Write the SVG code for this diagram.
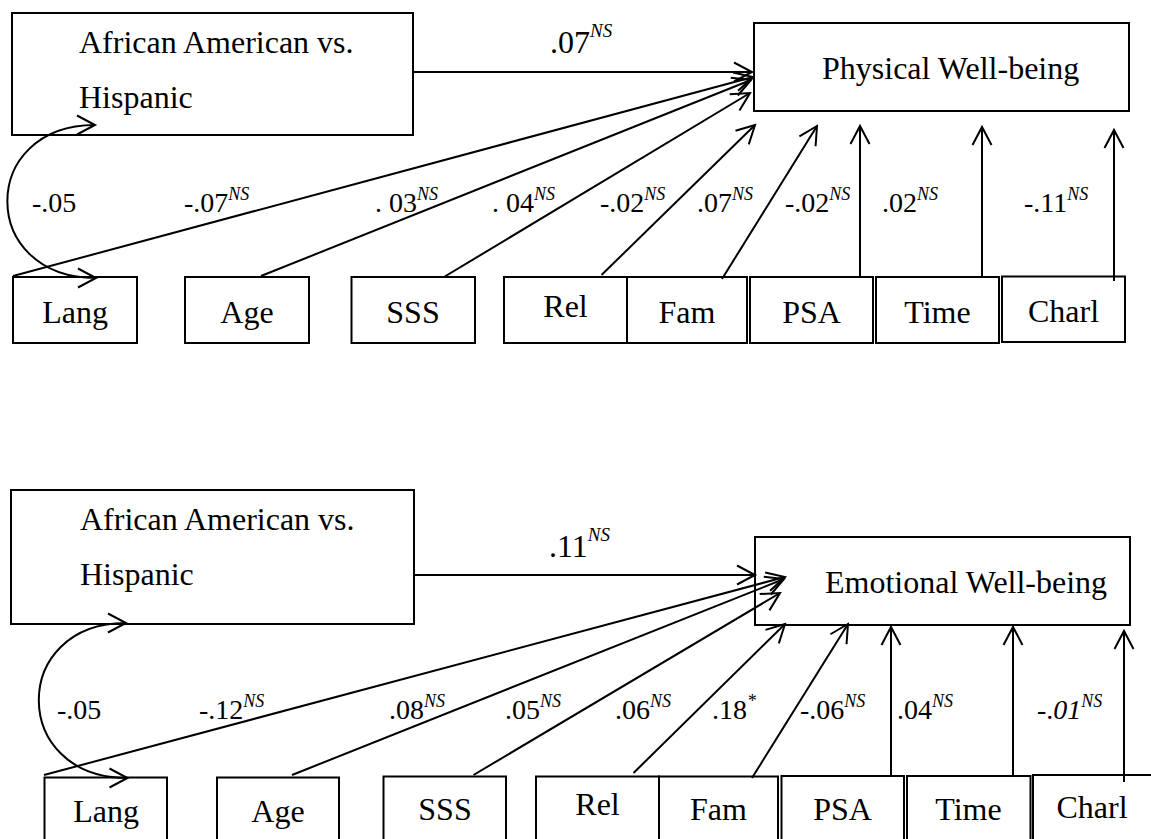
<svg xmlns="http://www.w3.org/2000/svg" width="1151" height="839" viewBox="0 0 1151 839">
  <style>
    .box { fill: #fff; stroke: #000; stroke-width: 2; }
    .lbl { font-family: "Liberation Serif", "Times New Roman", Tinos, "DejaVu Serif", serif; font-size: 32px; fill: #000; }
    .mid { text-anchor: middle; }
    .coef { font-family: "Liberation Serif", "Times New Roman", Tinos, "DejaVu Serif", serif; font-size: 28px; fill: #000; }
    .big { font-size: 32px; }
    .sup { font-style: italic; font-size: 18px; }
    .supb { font-style: italic; font-size: 19px; }
    .it { font-style: italic; }
    .edge { fill: none; stroke: #000; stroke-width: 2; marker-end: url(#arrow); }
    .cov { fill: none; stroke: #000; stroke-width: 2; marker-start: url(#arrow2); marker-end: url(#arrow2); }
  </style>
  <defs>
    <marker id="arrow" viewBox="-2 -2 24 24" markerUnits="userSpaceOnUse" markerWidth="24" markerHeight="24" refX="18" refY="10" orient="auto" overflow="visible">
      <path d="M0,0.5 L18,10 L0,19.5" fill="none" stroke="#000" stroke-width="2"/>
    </marker>
    <marker id="arrow2" viewBox="-2 -2 24 24" markerUnits="userSpaceOnUse" markerWidth="24" markerHeight="24" refX="18" refY="10" orient="auto-start-reverse" overflow="visible">
      <path d="M0,0.5 L18,10 L0,19.5" fill="none" stroke="#000" stroke-width="2"/>
    </marker>
  </defs>
  <rect width="1151" height="839" fill="#fff"/>

  <!-- Model 1: physical well-being -->
  <g id="p-aa">
    <rect class="box" x="12" y="13" width="401" height="122"/>
    <text class="lbl" x="79" y="53">African American vs.</text>
    <text class="lbl" x="79" y="108">Hispanic</text>
  </g>
  <g id="p-outcome">
    <rect class="box" x="754" y="23" width="375" height="88"/>
    <text class="lbl" x="822" y="79">Physical Well-being</text>
  </g>
  <g id="p-lang"><rect class="box" x="13" y="277" width="124" height="66"/><text class="lbl mid" x="75" y="323">Lang</text></g>
  <g id="p-age"><rect class="box" x="185" y="277" width="124" height="66"/><text class="lbl mid" x="247" y="323">Age</text></g>
  <g id="p-sss"><rect class="box" x="351.5" y="277" width="123.5" height="66"/><text class="lbl mid" x="413" y="323">SSS</text></g>
  <g id="p-rel"><rect class="box" x="504" y="277" width="123" height="66"/><text class="lbl mid" x="565.5" y="317">Rel</text></g>
  <g id="p-fam"><rect class="box" x="627" y="277" width="120" height="66"/><text class="lbl mid" x="687" y="323">Fam</text></g>
  <g id="p-psa"><rect class="box" x="750" y="277" width="123" height="66"/><text class="lbl mid" x="811.5" y="323">PSA</text></g>
  <g id="p-time"><rect class="box" x="876" y="277" width="123" height="66"/><text class="lbl mid" x="937.5" y="323">Time</text></g>
  <g id="p-charl"><rect class="box" x="1002" y="276.5" width="123" height="65.5"/><text class="lbl mid" x="1063.5" y="322">Charl</text></g>
  <g id="connectors-physical">
    <path class="edge" d="M412,72 L752,72"/>
    <path class="edge" d="M13,276 L753,77"/>
    <path class="edge" d="M261,276 L751,80"/>
    <path class="edge" d="M444,277 L750,93"/>
    <path class="edge" d="M601.5,275 L755,125"/>
    <path class="edge" d="M722,279 L817,126"/>
    <path class="edge" d="M860,277 L860,126"/>
    <path class="edge" d="M982,277 L982,127"/>
    <path class="edge" d="M1114,281 L1114,130"/>
    <path class="cov" d="M95,125 C-22,125 -22,278 96,278"/>
  </g>
  <g id="p-coefs">
    <text class="coef big" x="550" y="53">.07<tspan class="supb" dy="-16">NS</tspan></text>
    <text class="coef" x="32" y="212">-.05</text>
    <text class="coef" x="184" y="212">-.07<tspan class="sup" dy="-12">NS</tspan></text>
    <text class="coef" x="375" y="212">. 03<tspan class="sup" dy="-12">NS</tspan></text>
    <text class="coef" x="492" y="212">. 04<tspan class="sup" dy="-12">NS</tspan></text>
    <text class="coef" x="600" y="212">-.02<tspan class="sup" dy="-12">NS</tspan></text>
    <text class="coef" x="697" y="212">.07<tspan class="sup" dy="-12">NS</tspan></text>
    <text class="coef" x="785" y="212">-.02<tspan class="sup" dy="-12">NS</tspan></text>
    <text class="coef" x="882" y="212">.02<tspan class="sup" dy="-12">NS</tspan></text>
    <text class="coef" x="1024" y="212">-.11<tspan class="sup" dy="-12">NS</tspan></text>
  </g>

  <!-- Model 2: emotional well-being -->
  <g id="e-aa">
    <rect class="box" x="11" y="490" width="403" height="134"/>
    <text class="lbl" x="80" y="530">African American vs.</text>
    <text class="lbl" x="80" y="585">Hispanic</text>
  </g>
  <g id="e-outcome">
    <rect class="box" x="755" y="537" width="375" height="88"/>
    <text class="lbl" x="825" y="593">Emotional Well-being</text>
  </g>
  <g id="e-lang"><rect class="box" x="44.5" y="777.5" width="122.5" height="70"/><text class="lbl mid" x="106" y="822">Lang</text></g>
  <g id="e-age"><rect class="box" x="217" y="777.5" width="122" height="70"/><text class="lbl mid" x="278" y="822">Age</text></g>
  <g id="e-sss"><rect class="box" x="383.5" y="776.5" width="122.5" height="70"/><text class="lbl mid" x="445" y="820">SSS</text></g>
  <g id="e-rel"><rect class="box" x="536" y="776.5" width="123" height="70"/><text class="lbl mid" x="597.5" y="815">Rel</text></g>
  <g id="e-fam"><rect class="box" x="659" y="776.5" width="119" height="70"/><text class="lbl mid" x="718.5" y="820">Fam</text></g>
  <g id="e-psa"><rect class="box" x="781.5" y="776" width="122.5" height="70"/><text class="lbl mid" x="842.5" y="820">PSA</text></g>
  <g id="e-time"><rect class="box" x="907" y="776" width="123.5" height="70"/><text class="lbl mid" x="968.5" y="820">Time</text></g>
  <g id="e-charl"><rect class="box" x="1033" y="775" width="123" height="70"/><text class="lbl mid" x="1092" y="818">Charl</text></g>
  <g id="connectors-emotional">
    <path class="edge" d="M413,575 L755,575"/>
    <path class="edge" d="M44,775 L785,577"/>
    <path class="edge" d="M292,775 L784,579"/>
    <path class="edge" d="M473.5,775 L780,593"/>
    <path class="edge" d="M633.5,773 L785,624"/>
    <path class="edge" d="M752,778 L848,624"/>
    <path class="edge" d="M891,776 L891,627"/>
    <path class="edge" d="M1013,776 L1013,627"/>
    <path class="edge" d="M1124,782 L1124,631"/>
    <path class="cov" d="M126,623 C9.5,623 9.5,778 127.5,778"/>
  </g>
  <g id="e-coefs">
    <text class="coef big" x="549" y="557">.11<tspan class="supb" dy="-16">NS</tspan></text>
    <text class="coef" x="57" y="719">-.05</text>
    <text class="coef" x="199" y="719">-.12<tspan class="sup" dy="-12">NS</tspan></text>
    <text class="coef" x="389" y="719">.08<tspan class="sup" dy="-12">NS</tspan></text>
    <text class="coef" x="505" y="719">.05<tspan class="sup" dy="-12">NS</tspan></text>
    <text class="coef" x="615" y="719">.06<tspan class="sup" dy="-12">NS</tspan></text>
    <text class="coef" x="712" y="719">.18<tspan class="sup" dy="-12">*</tspan></text>
    <text class="coef" x="800" y="719">-.06<tspan class="sup" dy="-12">NS</tspan></text>
    <text class="coef" x="897" y="719">.04<tspan class="sup" dy="-12">NS</tspan></text>
    <text class="coef" x="1037" y="719">-.<tspan class="it">01</tspan><tspan class="sup" dy="-12">NS</tspan></text>
  </g>
</svg>
